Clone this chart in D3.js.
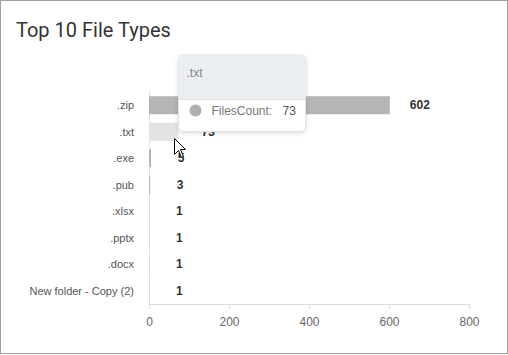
<!DOCTYPE html>
<html>
<head>
<meta charset="utf-8">
<script src="https://cdn.jsdelivr.net/npm/d3@7/dist/d3.min.js"></script>
<style>
	body { margin: 0; background: #fff; }
	svg { display: block; font-family: "Liberation Sans", Arial, sans-serif; }
</style>
</head>
<body>
<svg id="chart" width="508" height="355"></svg>
<script>
;(function(){
	var fileTypes = [".zip", ".txt", ".exe", ".pub", ".xlsx", ".pptx", ".docx", "New folder - Copy (2)"];
	var filesCount = [602, 73, 5, 3, 1, 1, 1, 1];
	var xTicks = [0, 200, 400, 600, 800];

	var hovered = ".txt";

	var w = 508;
	var h = 355;
	var xleft = 149;
	var xright = 469;
	var ytop = 92;
	var ybottom = 304;

	var svg = d3.select("#chart");

	// frame
	svg.append("rect")
		.attr("x", 0.5).attr("y", 0.5)
		.attr("width", w - 1).attr("height", h - 2)
		.attr("fill", "#fff")
		.attr("stroke", "#a0a0a0");

	svg.append("text")
		.attr("x", 16).attr("y", 37)
		.attr("fill", "#333")
		.style("font-family", "Roboto, sans-serif")
		.style("font-size", "20px")
		.text("Top 10 File Types");

	var xscale = d3.scaleLinear().domain([0, 800]).range([xleft, xright]);
	var yscale = d3.scaleBand().domain(fileTypes).range([ytop, ybottom]).paddingInner(0.32).paddingOuter(0.16);

	// x axis
	var xaxis = d3.axisBottom(xscale).tickValues(xTicks).tickSize(5).tickPadding(8);
	var gx = svg.append("g")
		.attr("transform", "translate(0," + ybottom + ")")
		.call(xaxis);
	gx.select(".domain").attr("stroke", "#ddd");
	gx.selectAll(".tick line").attr("stroke", "#ddd");
	gx.selectAll(".tick text")
		.attr("fill", "#666")
		.style("font-size", "12px")
		.style("font-family", "Liberation Sans, Arial, sans-serif");

	// y axis line
	svg.append("line")
		.attr("x1", xleft + 0.5).attr("x2", xleft + 0.5)
		.attr("y1", ytop - 2).attr("y2", ybottom)
		.attr("stroke", "#e3e3e3");

	// y labels
	svg.selectAll("text.y-label")
		.data(fileTypes)
		.enter().append("text")
			.attr("class", "y-label")
			.attr("x", 134)
			.attr("y", function(d){ return yscale(d) + yscale.bandwidth() / 2; })
			.attr("dy", "0.35em")
			.attr("fill", "#555")
			.style("text-anchor", "end")
			.style("font-size", "11px")
			.text(function(d){ return d; });

	// bars
	svg.selectAll("rect.bar")
		.data(fileTypes)
		.enter().append("rect")
			.attr("class", "bar")
			.attr("x", xscale(0))
			.attr("y", function(d){ return yscale(d); })
			.attr("width", function(d, i){ return Math.max(xscale(filesCount[i]) - xscale(0), 0.6); })
			.attr("height", yscale.bandwidth())
			.attr("fill", function(d, i){
				if(d == hovered) return "#e3e3e3";
				return filesCount[i] > 2 ? "#b5b5b5" : "#d8d8d8";
			});

	// value labels
	svg.selectAll("text.value")
		.data(fileTypes)
		.enter().append("text")
			.attr("class", "value")
			.attr("x", function(d, i){ return xscale(filesCount[i]) + 30; })
			.attr("y", function(d){ return yscale(d) + yscale.bandwidth() / 2; })
			.attr("dy", "0.35em")
			.attr("fill", "#333")
			.style("text-anchor", "middle")
			.style("font-size", "12px")
			.style("font-weight", "bold")
			.text(function(d, i){ return filesCount[i]; });

	// tooltip
	var hi = fileTypes.indexOf(hovered);
	var defs = svg.append("defs");
	var f = defs.append("filter").attr("id", "shadow").attr("x", "-20%").attr("y", "-20%").attr("width", "140%").attr("height", "140%");
	f.append("feDropShadow").attr("dx", 0).attr("dy", 1).attr("stdDeviation", 2).attr("flood-color", "#000").attr("flood-opacity", 0.15);
	var tip = svg.append("g").attr("transform", "translate(178.5,55.5)");
	tip.append("rect")
		.attr("width", 127).attr("height", 76).attr("rx", 4)
		.attr("fill", "#fff").attr("stroke", "#e2e2e2")
		.attr("filter", "url(#shadow)");
	tip.append("path")
		.attr("d", "M0,44 L0,4 A4,4 0 0 1 4,0 L123,0 A4,4 0 0 1 127,4 L127,44 Z")
		.attr("fill", "#eceff1");
	tip.append("line")
		.attr("x1", 0).attr("x2", 127).attr("y1", 44).attr("y2", 44)
		.attr("stroke", "#dde1e4");
	tip.append("text")
		.attr("x", 8).attr("y", 17).attr("dy", "0.35em")
		.attr("fill", "#888")
		.style("font-size", "12px")
		.text(hovered);
	tip.append("circle")
		.attr("cx", 17).attr("cy", 55).attr("r", 6)
		.attr("fill", "#b0b0b0");
	tip.append("text")
		.attr("x", 33).attr("y", 55).attr("dy", "0.35em")
		.attr("fill", "#777")
		.style("font-size", "12px")
		.text("FilesCount:");
	tip.append("text")
		.attr("x", 104).attr("y", 55).attr("dy", "0.35em")
		.attr("fill", "#555")
		.style("font-size", "12px")
		.text(filesCount[hi]);

	// mouse cursor
	svg.append("path")
		.attr("transform", "translate(174.5,138.5)")
		.attr("d", "M0,0 L0,16 L4,12 L7,19 L9,18 L6,11 L11,11 Z")
		.attr("fill", "#fff")
		.attr("stroke", "#000")
		.attr("stroke-width", 1);
})();
</script>
</body>
</html>
